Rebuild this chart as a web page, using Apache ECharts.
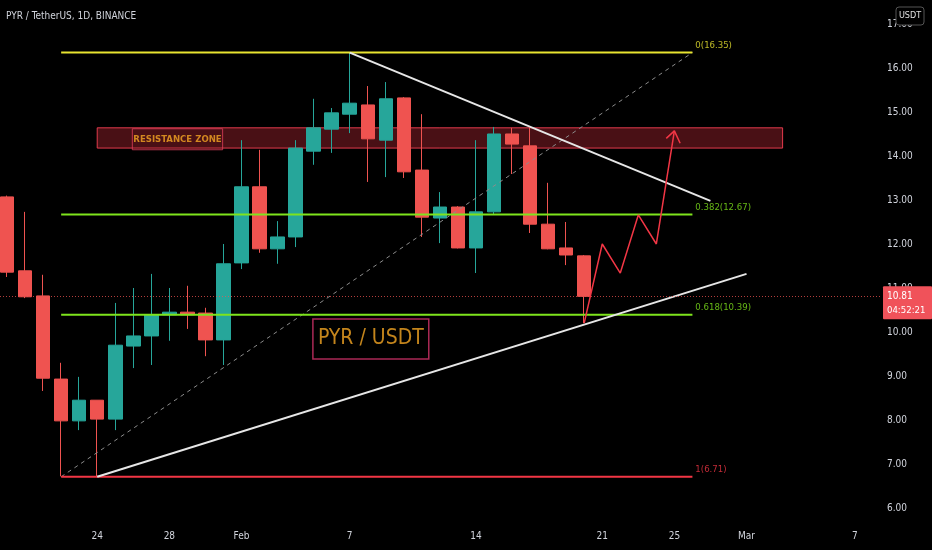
<!DOCTYPE html>
<html><head><meta charset="utf-8">
<script src="https://cdn.jsdelivr.net/npm/echarts@6/dist/echarts.min.js"></script>
<style>html,body{margin:0;padding:0;background:#000;}#c{width:932px;height:550px;}</style>
</head><body><div id="c"></div>
<script>
// ---- data ----
const dates = ['Jan 19','Jan 20','Jan 21','Jan 22','Jan 23','Jan 24','Jan 25','Jan 26','Jan 27','Jan 28','Jan 29','Jan 30','Jan 31',
  'Feb 1','Feb 2','Feb 3','Feb 4','Feb 5','Feb 6','Feb 7','Feb 8','Feb 9','Feb 10','Feb 11','Feb 12','Feb 13','Feb 14','Feb 15','Feb 16','Feb 17','Feb 18','Feb 19','Feb 20'];
const opens  = [13.07,11.39,10.82,8.93,7.98,8.45,8.02,9.68,9.91,10.39,10.45,10.43,9.82,11.57,13.30,11.89,12.16,14.11,14.61,14.95,15.16,14.36,15.32,13.68,12.59,12.84,11.91,12.73,14.50,14.23,12.45,11.91,11.73];
const closes = [11.36,10.80,8.95,7.98,8.45,8.02,9.70,9.91,10.39,10.45,10.39,9.82,11.55,13.30,11.89,12.16,14.18,14.64,14.98,15.20,14.39,15.30,13.64,12.61,12.84,11.91,12.73,14.50,14.27,12.45,11.89,11.75,10.81];
const lows   = [11.25,10.77,8.66,6.72,7.77,6.71,7.77,9.18,9.25,9.80,10.07,9.45,9.25,11.43,11.80,11.55,11.93,13.80,14.07,14.52,13.41,13.52,13.50,12.16,12.02,11.90,11.34,12.66,13.59,12.25,11.88,11.52,10.20];
const highs  = [13.10,12.73,11.30,9.30,8.98,8.45,10.66,11.00,11.32,11.00,11.05,10.55,12.00,14.36,14.14,12.52,14.36,15.30,15.09,16.35,15.59,15.68,15.34,14.95,13.18,12.86,14.36,14.66,14.64,14.64,13.39,12.50,11.75];

const xTickIdx = [5,9,13,19,26,33,37,41,47];
const xTickLabels = ['24','28','Feb','7','14','21','25','Mar','7'];
const yTicks = [6,7,8,9,10,11,12,13,14,15,16,17];

const fibRatios = ['0','0.382','0.618','1'];
const fibPrices = [16.35,12.67,10.39,6.71];
const fibColors = ['#e8e430','#7ee41c','#7ee41c','#f23645'];
const fibStart = 3, fibEnd = 38;

const zoneTop = 14.64, zoneBottom = 14.18, zoneStart = 5, zoneEnd = 43;
const zoneLabelPos = [9.45, 14.38];
const pairLabelPos = [20.17, 9.84];

const downTrend = [[19,16.35],[39,12.98]];
const upTrend = [[5,6.71],[41,11.32]];
const projX = [32,33,34,35,36,37];
const projY = [10.20,12.00,11.34,12.66,12.00,14.57];
const arrowHead = [[36.55,14.40],[37,14.57],[37.32,14.29]];

const lastPrice = 10.81;
const countdown = '04:52:21';

// ---- chart ----
const FONT = "'DejaVu Sans Condensed','DejaVu Sans',sans-serif";
const chart = echarts.init(document.getElementById('c'), null, {renderer:'canvas'});

function seg(pts, color, width, type, z) {
  return {type:'line', data:pts, symbol:'none', showSymbol:false, silent:true, animation:false,
    lineStyle:{color:color, width:width, type:type||'solid'}, z:z||3};
}

const series = [];
series.push({
  type:'candlestick', z:1, barWidth:14, animation:false, silent:true,
  data: dates.map((d,i)=>[i, opens[i], closes[i], lows[i], highs[i]]),
  itemStyle:{color:'#26a69a', color0:'#ef5350', borderColor:'#26a69a', borderColor0:'#ef5350', borderWidth:1},
  markLine:{silent:true, symbol:'none', animation:false, label:{show:false},
    lineStyle:{color:'#ef5350', type:[1,2], width:1, opacity:0.75},
    data:[{yAxis:lastPrice}]}
});
series.push({type:'line', data:[], z:2, animation:false, silent:true,
  markArea:{silent:true, animation:false,
    itemStyle:{color:'rgba(242,54,69,0.30)', borderColor:'#e23a4c', borderWidth:1},
    data:[[{coord:[zoneStart, zoneTop]},{coord:[zoneEnd, zoneBottom]}]]}});
series.push(seg([[fibStart, fibPrices[3]],[fibEnd, fibPrices[0]]], '#8c8c8c', 1, [4,4], 3));
fibPrices.forEach((p,k)=>{ series.push(seg([[fibStart,p],[fibEnd,p]], fibColors[k], 2, 'solid', 3)); });
series.push(seg(downTrend, '#e6e6e6', 2, 'solid', 4));
series.push(seg(upTrend, '#e6e6e6', 2, 'solid', 4));
series.push(seg(projX.map((x,i)=>[x, projY[i]]), '#f23645', 1.5, 'solid', 5));
series.push(seg(arrowHead, '#f23645', 1.5, 'solid', 5));
series.push({type:'scatter', symbolSize:0.1, z:6, silent:true, animation:false,
  itemStyle:{color:'rgba(0,0,0,0)'},
  label:{show:true, position:[3,-12], fontSize:9.5, fontFamily:FONT},
  data: fibPrices.map((p,k)=>({value:[fibEnd,p],
    label:{formatter: fibRatios[k]+'('+p.toFixed(2)+')', color:fibColors[k]}}))});
series.push({type:'scatter', symbolSize:0.1, z:6, silent:true, animation:false,
  itemStyle:{color:'rgba(0,0,0,0)'},
  label:{show:true, position:'inside', formatter:'RESISTANCE ZONE', color:'#f5a623', fontWeight:'bold',
    fontSize:9.5, fontFamily:FONT, borderColor:'#e0405a', borderWidth:1, padding:[6,1,5,1]},
  data:[zoneLabelPos]});
series.push({type:'scatter', symbolSize:0.1, z:6, silent:true, animation:false,
  itemStyle:{color:'rgba(0,0,0,0)'},
  label:{show:true, position:'inside', formatter:'PYR / USDT', color:'#f5a623',
    fontSize:21, fontFamily:FONT, borderColor:'#d6336c', borderWidth:1.5, padding:[10,5,9,5]},
  data:[pairLabelPos]});

chart.setOption({
  backgroundColor:'#000',
  animation:false,
  grid:{left:0, right:52, top:0, bottom:34, outerBoundsMode:'none'},
  xAxis:{type:'value', min:-0.39, max:48.4,
    axisLine:{show:false}, axisTick:{show:false}, splitLine:{show:false},
    axisLabel:{customValues:xTickIdx, formatter:v=>xTickLabels[xTickIdx.indexOf(v)], color:'#d1d4dc',
      fontSize:10, fontFamily:FONT, margin:15}},
  yAxis:{type:'value', position:'right', min:5.818, max:17.545,
    axisLine:{show:false}, axisTick:{show:false}, splitLine:{show:false},
    axisLabel:{customValues:yTicks, formatter:v=>v.toFixed(2), color:'#d1d4dc', fontSize:10, fontFamily:FONT, margin:7}},
  series:series
});

const py = chart.convertToPixel({yAxisIndex:0}, lastPrice);
chart.setOption({graphic:[
  {type:'text', left:6, top:11, z:10, style:{text:'PYR / TetherUS, 1D, BINANCE', fill:'#d1d4dc', fontSize:10, fontFamily:FONT}},
  {type:'rect', x:896, y:7, z:10, shape:{width:28, height:18, r:3}, style:{fill:'#000', stroke:'#555', lineWidth:1}},
  {type:'text', x:910, y:16, z:11, style:{text:'USDT', fill:'#e0e0e0', fontSize:9, fontFamily:FONT, align:'center', verticalAlign:'middle'}},
  {type:'rect', x:883, y:py-10, z:10, shape:{width:49, height:33, r:1}, style:{fill:'#f0525a'}},
  {type:'text', x:887, y:py+0.5, z:11, style:{text:lastPrice.toFixed(2), fill:'#fff', fontSize:10, fontFamily:FONT, verticalAlign:'middle'}},
  {type:'text', x:887, y:py+14, z:11, style:{text:countdown, fill:'#fff', fontSize:9.5, fontFamily:FONT, verticalAlign:'middle'}}
]});
</script></body></html>
